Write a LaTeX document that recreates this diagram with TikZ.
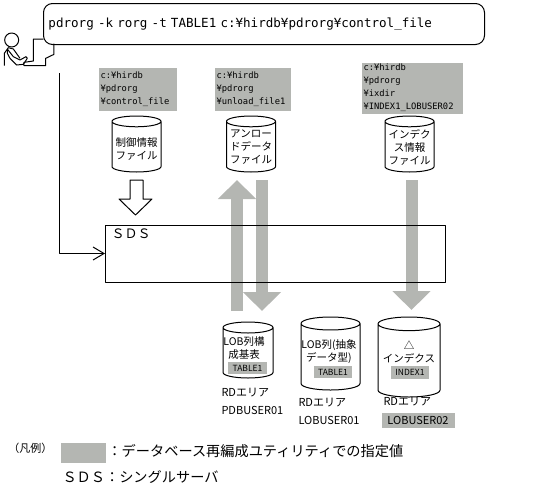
\documentclass[tikz,border=0pt]{standalone}
\usepackage{fontspec}
\setmainfont{Noto Sans CJK JP}
\newfontfamily\cmdfont{DejaVu Sans Mono}
\usetikzlibrary{arrows.meta,shapes.geometric}
\definecolor{spec}{HTML}{B4B6B2}
\tikzset{fig/.style={x=1pt,y=-1pt,line join=round,line width=1pt},
  dbcyl/.style={draw,cylinder,shape border rotate=90,shape aspect=.22,inner xsep=#1,inner ysep=0pt,outer sep=0pt,anchor=shape center},
  pathbox/.style={fill=spec,anchor=north west,inner xsep=2pt,inner ysep=0pt,align=left,font=\cmdfont\fontsize{8.8}{13}\selectfont},
  speclbl/.style={fill=spec,inner sep=0pt,font=\fontsize{8.5}{10}\selectfont},
  cyllbl/.style={align=center,inner sep=0pt,font=\fontsize{10.5}{13}\selectfont},
  arealbl/.style={anchor=west,align=left,inner sep=0pt,font=\fontsize{11}{18}\selectfont},
  graytip/.style={draw=spec,line width=12pt,-{Triangle[length=19pt,width=37pt]}},
  legendtxt/.style={anchor=west,inner sep=0pt,font=\fontsize{14.2}{16}\selectfont}}
\begin{document}
\begin{tikzpicture}[fig]
  \useasboundingbox(0,0)rectangle(555,491);
  % command balloon
  \node[draw,rounded corners=9pt,anchor=north west,text width=431pt,inner xsep=5pt,minimum height=41pt,align=left,font=\cmdfont\fontsize{12.55}{14}\selectfont](cmd)at(43,3){pdrorg -k rorg -t TABLE1 c:¥hirdb¥pdrorg¥control\_file};
  % operator at the terminal
  \begin{scope}[shift={(0,25)},scale=1/3]
    \node[draw,circle,minimum size=14pt,inner sep=0pt](head)at(35,45){};
    \draw(13,122)--(13,85)--(25,68)--(40,72)--(60,100);
    \draw(22,72)--(40,95)--(60,105)--(78,95)--(82,100)--(70,118)--(50,120)--(30,100)--(22,85)--cycle;
    \draw(130,42)--(100,42)--(100,108)--(72,112)--(72,122)--(137,122)--(137,100)--(162,88)--(162,56);
  \end{scope}
  % path values
  \node[pathbox,text width=74pt,minimum height=43pt](pathctl)at(98,67){c:¥hirdb\\¥pdrorg\\¥control\_file};
  \node[pathbox,text width=72pt,minimum height=43pt](pathunl)at(214,67){c:¥hirdb\\¥pdrorg\\¥unload\_file1};
  \node[pathbox,text width=97pt,minimum height=51pt](pathidx)at(361,62){c:¥hirdb\\¥pdrorg\\¥ixdir\\¥INDEX1\_LOBUSER02};
  % files
  \node[dbcyl=24.5pt,minimum height=56pt](ctlfile)at(136.5,144){};
  \node[dbcyl=24.5pt,minimum height=56pt](unlfile)at(251,144){};
  \node[dbcyl=24.5pt,minimum height=56pt](idxfile)at(409.5,144){};
  \node[cyllbl]at(136.5,148.5){制御情報\\ファイル};
  \node[cyllbl]at(251,147){アンロー\\ドデータ\\ファイル};
  \node[cyllbl]at(409.5,147){インデク\\ス情報\\ファイル};
  % server
  \coordinate(cmdout)at(59,73);
  \node[minimum width=339pt,minimum height=56pt,inner sep=0pt,anchor=north west](sds)at(105,225){};
  % rdareas
  \node[dbcyl=25pt,minimum height=56pt](area1)at(248,350){};
  \node[dbcyl=29.5pt,minimum height=73pt](area2)at(330.5,353.5){};
  \node[dbcyl=31pt,minimum height=80pt](area3)at(409,357){};
  \coordinate(dataup)at(237,311);
  \coordinate(datadn)at(262,180);
  \coordinate(idxtop)at(411.5,180);
  \draw[graytip](dataup)--(237,180);
  \draw[graytip](datadn)--(262,311);
  \draw[graytip](idxtop)--(411.5,310);
  \draw(sds.north west)rectangle(sds.south east);
  \node[anchor=north west,inner sep=0pt,font=\fontsize{13}{15}\selectfont]at(111,228){^^^^ff33^^^^ff24^^^^ff33};
  \draw[-{Straight Barb[length=11pt,width=13pt]}](cmdout)|-(sds.west);
  \draw[fill=white](130,180)--(143,180)--(143,199)--(152,199)--(135.5,215)--(119,199)--(130,199)--cycle;
  % labels in the rdareas
  \node[cyllbl]at(244,348.5){LOB列構\\成基表};
  \node[speclbl,minimum width=39pt,minimum height=12pt](tbl1)at(247.5,368){TABLE1};
  \node[cyllbl]at(329,351.5){LOB列(抽象\\データ型)};
  \node[speclbl,minimum width=38pt,minimum height=12pt](tbl2)at(333,372){TABLE1};
  \node[cyllbl]at(409,351.5){△\\インデクス};
  \node[speclbl,minimum width=38pt,minimum height=13pt](idx1)at(410,372.5){INDEX1};
  \node[arealbl]at(221,401){RDエリア\\PDBUSER01};
  \node[arealbl]at(298,411){RDエリア\\LOBUSER01};
  \node[arealbl]at(383,402){RDエリア};
  \node[fill=spec,anchor=north west,inner xsep=2pt,inner ysep=0pt,minimum width=73pt,minimum height=15pt,align=left,font=\fontsize{11}{15}\selectfont](area3name)at(381,412){LOBUSER02};
  % legend
  \node[anchor=west,inner sep=0pt,font=\fontsize{11}{13}\selectfont]at(8,448){^^^^ff08凡例^^^^ff09};
  \node[fill=spec,minimum width=45pt,minimum height=20pt,inner sep=0pt,anchor=north west](legbox)at(60,442){};
  \node[legendtxt]at(107,451){^^^^ff1aデータベース再編成ユティリティでの指定値};
  \node[legendtxt]at(62,477){^^^^ff33^^^^ff24^^^^ff33^^^^ff1aシングルサーバ};
\end{tikzpicture}
\end{document}
